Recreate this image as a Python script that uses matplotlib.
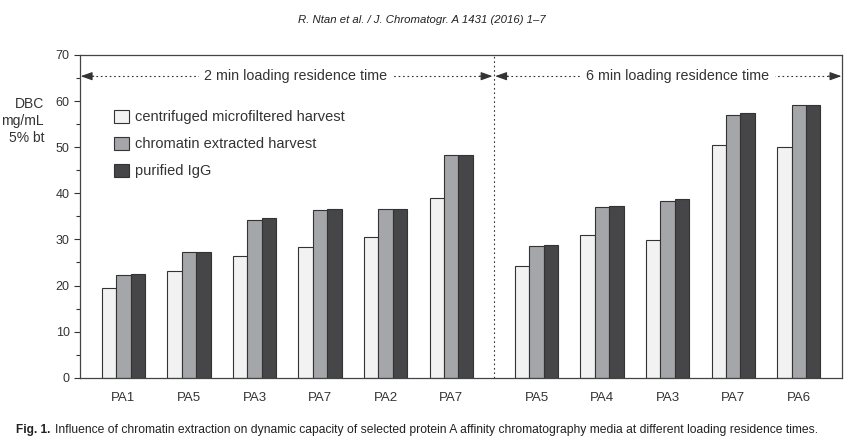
import matplotlib
matplotlib.use("Agg")
import matplotlib.pyplot as plt
import numpy as np

plt.rcParams['font.family'] = ['Liberation Sans', 'DejaVu Sans']

# данные
labels = ['PA1', 'PA5', 'PA3', 'PA7', 'PA2', 'PA7', 'PA5', 'PA4', 'PA3', 'PA7', 'PA6']
positions = [0, 1, 2, 3, 4, 5, 6.3, 7.3, 8.3, 9.3, 10.3]
centrifuged = [19.4, 23.1, 26.3, 28.3, 30.5, 38.9, 24.2, 30.9, 29.8, 50.4, 50.0]
chromatin = [22.2, 27.2, 34.1, 36.3, 36.5, 48.2, 28.5, 37.0, 38.3, 56.9, 59.1]
purified = [22.5, 27.2, 34.6, 36.6, 36.5, 48.2, 28.8, 37.2, 38.7, 57.4, 59.1]
series_names = ['centrifuged microfiltered harvest', 'chromatin extracted harvest', 'purified IgG']
colors = ['#f2f2f2', '#a5a6a9', '#464648']
txt = '#333333'

fig = plt.figure(figsize=(8.66, 4.47), dpi=100)
ax = fig.add_axes([0.0924, 0.155, 0.88, 0.722])

w = 0.22
x = np.array(positions)
for k, vals in enumerate([centrifuged, chromatin, purified]):
    ax.bar(x + (k - 1) * w, vals, w, color=colors[k], edgecolor='#333333',
           linewidth=0.8, label=series_names[k], zorder=2)

ax.set_xlim(-0.66, 10.96)
ax.set_ylim(0, 70)
ax.set_yticks(range(0, 71, 10))
ax.set_yticks(range(5, 70, 10), minor=True)
ax.tick_params(axis='y', which='major', length=4, labelsize=9, colors=txt, width=0.8)
ax.tick_params(axis='y', which='minor', length=3, width=0.8, color=txt)
ax.set_xticks(x)
ax.set_xticklabels(labels, fontsize=9.5, color=txt)
ax.tick_params(axis='x', length=0, pad=10)
for s in ax.spines.values():
    s.set_color('#444444')
    s.set_linewidth(0.9)

# разделитель
div = 5.65
ax.plot([div, div], [0, 70], ls=(0, (1.5, 2.5)), color=txt, lw=0.8, zorder=1)

# стрелки с подписями
ya = 65.4
def span(x0, x1, tx, text):
    ax.plot([x0 + 0.1, x1 - 0.1], [ya, ya], ls=(0, (1.5, 2.5)), color=txt, lw=0.8)
    for tip, tail in [(x0, x0 + 0.2), (x1, x1 - 0.2)]:
        ax.annotate('', xy=(tip, ya), xytext=(tail, ya),
                    arrowprops=dict(arrowstyle='-|>,head_length=0.7,head_width=0.25',
                                    color=txt, lw=0.8, shrinkA=0, shrinkB=0))
    ax.text(tx, ya, text, ha='center', va='center', fontsize=10.3, color=txt,
            bbox=dict(facecolor='white', edgecolor='none', pad=4))

span(-0.65, div - 0.02, 2.63, '2 min loading residence time')
span(div + 0.02, 10.95, 8.45, '6 min loading residence time')

leg = ax.legend(loc='upper left', bbox_to_anchor=(0.045, 0.83), frameon=False,
                fontsize=10.5, handlelength=1.0, handleheight=1.0, handletextpad=0.4,
                labelspacing=0.85, borderaxespad=0, borderpad=0)
for t in leg.get_texts():
    t.set_color(txt)

fig.text(0.051, 0.729, 'DBC\nmg/mL\n5% bt', ha='right', va='center', fontsize=10,
         color=txt, linespacing=1.3)

fig.text(0.487, 0.955, 'R. Ntan et al. / J. Chromatogr. A 1431 (2016) 1\u20137',
         ha='center', va='center', fontsize=8.2, style='italic', color='#222222')
fig.text(0.018, 0.038, 'Fig. 1.', ha='left', va='center', fontsize=8.6,
         weight='bold', color='#222222')
fig.text(0.063, 0.038, 'Influence of chromatin extraction on dynamic capacity of selected '
         'protein A affinity chromatography media at different loading residence times.',
         ha='left', va='center', fontsize=8.7, color='#222222')

fig.savefig('out.png', dpi=100)
